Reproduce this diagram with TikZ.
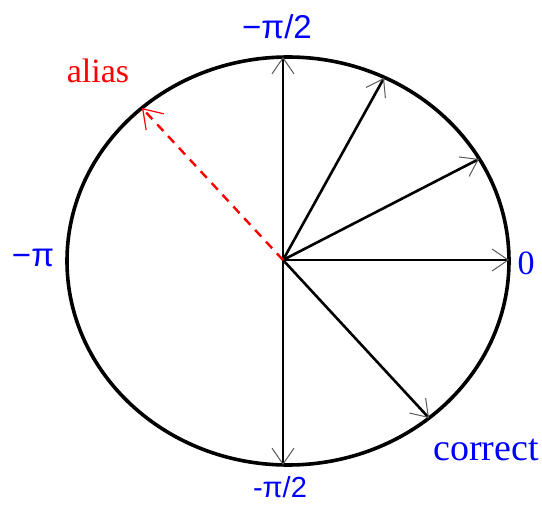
\documentclass[tikz,border=0pt]{standalone}
\usepackage{fontspec}
\setmainfont{Liberation Serif}
\setsansfont{Liberation Sans}
\usetikzlibrary{arrows.meta}

\begin{document}
\begin{tikzpicture}[x=1pt, y=-1pt,
  >={Straight Barb[length=16pt, width=22pt, line width=1pt, color=black!65]},
  vec/.style={->, line width=2.6pt},
  angle/.style={text=blue, inner sep=0pt, font=\sffamily\fontsize{33}{33}\selectfont},
  word/.style={inner sep=0pt, font=\fontsize{34}{34}\selectfont}]

  \useasboundingbox (0,0) rectangle (542,506);

  % Circle
  \draw[line width=3.6pt] (288,261) ellipse [x radius=221pt, y radius=204pt];

  % Points
  \coordinate (O)  at (283,260);
  \coordinate (U)  at (283,57);
  \coordinate (D)  at (283,465);
  \coordinate (R)  at (509,260);
  \coordinate (P1) at (384,78);
  \coordinate (P2) at (479,159);
  \coordinate (C)  at (429,418);
  \coordinate (A)  at (142,108);

  % Labels
  \node (top)   [angle] at (277,27)  {−π/2};
  \node (bot)   [angle, anchor=base, font=\sffamily\fontsize{29}{29}\selectfont] at (280,497) {-π/2};
  \node (left)  [angle] at (33,258)  {−π};
  \node (zero)  [word, text=blue, anchor=base] at (526,274) {0};
  \node (corr)  [word, text=blue, anchor=base, font=\fontsize{38}{38}\selectfont] at (486,460) {correct};
  \node (alias) [word, text=red, anchor=base] at (98,82) {alias};

  % Vectors
  \draw[vec] (O) -- (U);
  \draw[vec] (O) -- (D);
  \draw[vec] (O) -- (R);
  \draw[vec] (O) -- (P1);
  \draw[vec] (O) -- (P2);
  \draw[vec] (O) -- (C);
  \draw[->, red, line width=2.4pt, dash pattern=on 9pt off 7pt,
        >={Straight Barb[length=18pt, width=24pt, line width=1.2pt, color=red]}] (O) -- (A);

\end{tikzpicture}
\end{document}
